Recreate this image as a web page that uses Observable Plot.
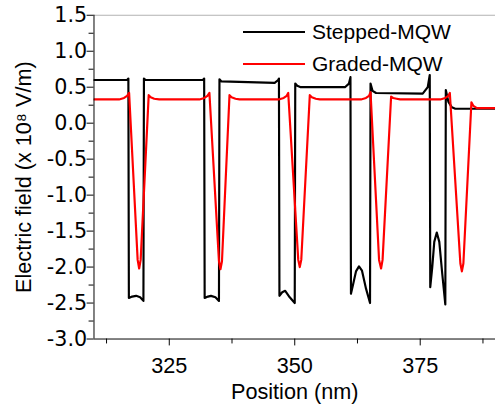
<!DOCTYPE html>
<html><head><meta charset="utf-8">
<script src="https://cdn.jsdelivr.net/npm/d3@7"></script>
<script src="https://cdn.jsdelivr.net/npm/@observablehq/plot@0.6"></script>
<style>
html,body{margin:0;padding:0;background:#fff;overflow:hidden;}
#wrap{position:relative;width:496px;height:405px;overflow:hidden;font-family:"Liberation Sans",Arial,sans-serif;}
#legend{position:absolute;left:243px;top:16px;font-size:21px;color:#000;}
.item{display:flex;align-items:center;height:32px;white-space:nowrap;}
.sw{display:inline-block;width:62px;height:0;border-top:2px solid;margin-right:7px;}
</style></head>
<body><div id="wrap"><div id="legend"></div></div>
<script>
const xDomain = [310, 390];
const yDomain = [-3.0, 1.5];
const xMajorTicks = [325, 350, 375];
const xMinorTicks = [312.5, 337.5, 362.5, 387.5];
const yMajorTicks = [-3.0, -2.5, -2.0, -1.5, -1.0, -0.5, 0.0, 0.5, 1.0, 1.5];
const yMinorTicks = [-2.75, -2.25, -1.75, -1.25, -0.75, -0.25, 0.25, 0.75, 1.25];
const seriesNames = ["Stepped-MQW", "Graded-MQW"];
const seriesColors = ["#000000", "#ff0000"];
const xLabel = "Position (nm)";
const yLabel = "Electric field (x 10\u2078 V/m)";

const steppedX = [310.0, 316.6, 316.85, 316.95, 317.6, 318.4, 319.2, 319.85, 319.95, 320.3,
  331.7, 331.95, 332.05, 332.7, 333.3, 334.2, 334.9, 335.0, 335.4,
  346.0, 346.7, 346.85, 346.95, 347.5, 348.1, 349.0, 350.0, 350.1, 350.5, 351.2,
  360.0, 360.8, 361.1, 361.2, 361.6, 362.2, 362.8, 363.4, 364.2, 365.0, 365.1, 365.5, 366.2,
  375.5, 376.5, 376.9, 377.0, 377.4, 377.8, 378.3, 378.8, 379.4, 380.0, 380.1, 380.6, 381.3, 382.0, 390.0];
const steppedY = [0.60, 0.60, 0.62, -2.43, -2.41, -2.40, -2.42, -2.47, 0.62, 0.60,
  0.60, 0.62, -2.43, -2.41, -2.40, -2.42, -2.47, 0.61, 0.58,
  0.56, 0.60, 0.62, -2.40, -2.35, -2.33, -2.42, -2.50, 0.55, 0.52, 0.50,
  0.50, 0.55, 0.64, -2.37, -2.25, -2.06, -1.99, -2.05, -2.30, -2.50, 0.55, 0.45, 0.42,
  0.41, 0.50, 0.67, -2.28, -2.00, -1.65, -1.52, -1.65, -2.10, -2.52, 0.46, 0.30, 0.22, 0.20, 0.20];

const gradedX = [310.0, 315.0, 316.0, 316.6, 317.0, 318.7, 319.0, 319.3, 320.9, 321.3, 322.0, 323.0,
  331.0, 332.0, 332.6, 333.0, 334.9, 335.2, 335.5, 337.0, 337.4, 338.2, 339.0,
  346.8, 347.8, 348.4, 348.7, 350.7, 351.0, 351.3, 353.0, 353.4, 354.2, 355.0,
  363.2, 364.2, 364.8, 365.1, 366.8, 367.2, 367.5, 369.2, 369.6, 370.3, 371.0,
  379.0, 380.0, 380.6, 380.9, 383.0, 383.3, 383.6, 385.2, 385.6, 386.3, 390.0];
const gradedY = [0.33, 0.33, 0.35, 0.38, 0.42, -1.90, -2.02, -1.90, 0.39, 0.36, 0.34, 0.33,
  0.33, 0.35, 0.38, 0.42, -1.92, -2.03, -1.92, 0.39, 0.36, 0.34, 0.33,
  0.33, 0.35, 0.38, 0.42, -1.90, -2.00, -1.90, 0.39, 0.36, 0.34, 0.33,
  0.33, 0.35, 0.38, 0.43, -1.90, -2.02, -1.90, 0.37, 0.35, 0.34, 0.33,
  0.33, 0.35, 0.38, 0.42, -1.95, -2.06, -1.95, 0.29, 0.24, 0.21, 0.21];

const data = [];
steppedX.forEach((x, i) => data.push({series: seriesNames[0], x, y: steppedY[i]}));
gradedX.forEach((x, i) => data.push({series: seriesNames[1], x, y: gradedY[i]}));

const plot = Plot.plot({
  width: 504, height: 405,
  marginLeft: 95, marginRight: 1, marginTop: 15, marginBottom: 61,
  style: {fontFamily: "Liberation Sans, Arial, sans-serif", fontSize: "22px", color: "#000", background: "#fff", overflow: "visible"},
  x: {domain: xDomain, label: null},
  y: {domain: yDomain, label: null},
  color: {domain: seriesNames, range: seriesColors},
  marks: [
    Plot.ruleY([yDomain[1]], {stroke: "#b0b0b0", strokeWidth: 1}),
    Plot.line(data, {x: "x", y: "y", z: "series", stroke: "series", strokeWidth: 2.2, clip: true}),
    Plot.axisX(xMajorTicks, {tickSize: 7, tickPadding: 12, tickFormat: d => String(d), label: xLabel, labelAnchor: "center", labelArrow: false, labelOffset: 61}),
    Plot.axisX(xMinorTicks, {tickSize: 5, tickFormat: () => "", label: null}),
    Plot.axisY(yMajorTicks, {tickSize: 7, tickPadding: 0, tickFormat: d => d.toFixed(1), label: null, fontFamily: "DejaVu Sans", fontSize: 21}),
    Plot.axisY([], {tickSize: 0, label: yLabel, labelAnchor: "center", labelArrow: false, labelOffset: 80}),
    Plot.axisY(yMinorTicks, {tickSize: 5, tickFormat: () => "", label: null}),
    Plot.ruleX([xDomain[0]], {stroke: "#000"}),
    Plot.ruleY([yDomain[0]], {stroke: "#000"})
  ]
});
const wrap = document.getElementById("wrap");
wrap.insertBefore(plot, wrap.firstChild);

const legend = document.getElementById("legend");
seriesNames.forEach((name, i) => {
  const item = document.createElement("div");
  item.className = "item";
  const sw = document.createElement("span");
  sw.className = "sw";
  sw.style.borderTopColor = seriesColors[i];
  const t = document.createElement("span");
  t.textContent = name;
  item.appendChild(sw);
  item.appendChild(t);
  legend.appendChild(item);
});
</script>
</body></html>
